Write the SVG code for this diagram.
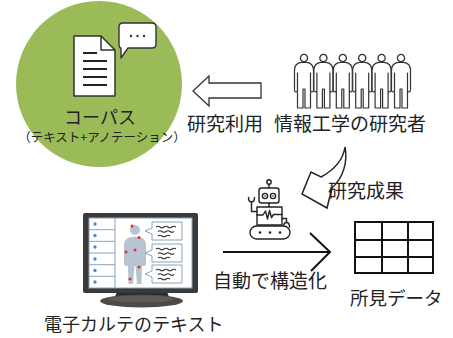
<svg xmlns="http://www.w3.org/2000/svg" xmlns:xlink="http://www.w3.org/1999/xlink" width="453" height="338" viewBox="0 0 453 338">
  <style>
    text { font-family: "Noto Sans CJK JP", "Noto Sans", sans-serif; fill: #222; }
    .lbl { font-size: 19px; }
    .ink { fill: none; stroke: #222; stroke-width: 1.4; stroke-linecap: round; stroke-linejoin: round; }
    .inkw { fill: #fff; stroke: #222; stroke-width: 1.4; stroke-linejoin: round; }
    .wave { fill: none; stroke: #333; stroke-width: 1.1; }
    .bub { fill: #fff; stroke: #8aa3ba; stroke-width: 1; }
    .red { fill: #e0312c; }
    .blue { fill: #3d8ed6; }
  </style>
  <defs>
    <!-- pictogram of a standing person, head centred at the origin -->
    <g id="person">
      <path d="M-2.5,4.3 C-7,4.8 -9.5,7 -9.5,12 L-9.5,32 Q-9.5,34 -8,34 Q-6.5,34 -6.5,32 L-6.5,15 L-6.5,50 L-1,50 L-1,31 L1,31 L1,50 L6.5,50 L6.5,15 L6.5,32 Q6.5,34 8,34 Q9.5,34 9.5,32 L9.5,12 C9.5,7 7,4.8 2.5,4.3 Z" fill="#fff" stroke="#333" stroke-width="1.2" stroke-linejoin="round"/>
      <circle cx="0" cy="0" r="3.6" fill="#fff" stroke="#333" stroke-width="1.3"/>
    </g>
    <!-- small speech bubble with wavy text lines, tail to the left -->
    <g id="note">
      <path class="bub" d="M0,0 H30 V18 H0 V12 L-7,9 L0,6 Z"/>
      <path class="wave" d="M4,5 q2,-1.5 4,0 t4,0 t4,0 t4,0 t4,0"/>
      <path class="wave" d="M6,9.5 q2,-1.5 4,0 t4,0 t4,0 t4,0"/>
      <path class="wave" d="M6,14 q2,-1.5 4,0 t4,0 t4,0"/>
    </g>
  </defs>

  <!-- corpus -->
  <g id="corpus">
    <circle cx="99" cy="84" r="83" fill="#9bbb59"/>
    <path d="M74,36 L101,36 L115,50 L115,96 L74,96 Z" fill="#fff" stroke="#333" stroke-width="1.5" stroke-linejoin="round"/>
    <path d="M101,36 L101,50 L115,50" fill="none" stroke="#333" stroke-width="1.5" stroke-linejoin="round"/>
    <g stroke="#222" stroke-width="2">
      <line x1="83" y1="53" x2="97" y2="53"/>
      <line x1="83" y1="61" x2="107" y2="61"/>
      <line x1="83" y1="69" x2="107" y2="69"/>
      <line x1="83" y1="77" x2="107" y2="77"/>
      <line x1="83" y1="85" x2="107" y2="85"/>
    </g>
    <path d="M123,23 H152 Q156,23 156,27 V44 Q156,48 152,48 H128 L121,58 L121,48 Q119,48 119,44 V27 Q119,23 123,23 Z" fill="#fff" stroke="#333" stroke-width="1.4" stroke-linejoin="round"/>
    <g fill="#333">
      <circle cx="131" cy="36" r="1.2"/>
      <circle cx="137.5" cy="36" r="1.2"/>
      <circle cx="144" cy="36" r="1.2"/>
    </g>
    <text x="100" y="124" font-size="18" text-anchor="middle">コーパス</text>
    <text x="102" y="142" font-size="12.5" text-anchor="middle">（テキスト+アノテーション）</text>
  </g>

  <!-- researchers -->
  <g id="researchers">
    <use xlink:href="#person" x="304" y="58"/>
    <use xlink:href="#person" x="323.4" y="58"/>
    <use xlink:href="#person" x="342.8" y="58"/>
    <use xlink:href="#person" x="362.2" y="58"/>
    <use xlink:href="#person" x="381.6" y="58"/>
    <use xlink:href="#person" x="401" y="58"/>
    <text class="lbl" x="274" y="131">情報工学の研究者</text>
  </g>

  <!-- structuring robot -->
  <g id="robot">
    <circle class="inkw" cx="269" cy="182" r="2.2"/>
    <line class="ink" x1="269" y1="184.2" x2="269" y2="188"/>
    <rect class="inkw" x="259" y="188" width="20" height="15" rx="2.5"/>
    <circle class="ink" cx="265" cy="196" r="2.6"/>
    <circle class="ink" cx="273" cy="196" r="2.6"/>
    <circle fill="#222" cx="265" cy="196" r="0.8"/>
    <circle fill="#222" cx="273" cy="196" r="0.8"/>
    <line class="ink" x1="269" y1="203" x2="269" y2="207"/>
    <rect class="inkw" x="257" y="207" width="25" height="18"/>
    <path class="ink" d="M257,215 H263 L265.5,211 L267.5,219 L269.5,210.5 L271.5,217.5 L273.5,214.5 H282"/>
    <path class="ink" d="M257,211.5 H251.5 V202"/>
    <path class="ink" d="M248.5,197.5 Q248.5,202 251.5,202 Q254.5,202 254.5,197.5"/>
    <path class="ink" d="M282,218.5 H286.5 V222.5"/>
    <path class="ink" d="M283.5,227 Q283.5,222.5 286.5,222.5 Q289.5,222.5 289.5,227"/>
    <rect class="inkw" x="250" y="226" width="40" height="13" rx="6.5"/>
    <g fill="#222">
      <circle cx="260" cy="232.5" r="1.3"/>
      <circle cx="270" cy="232.5" r="1.3"/>
      <circle cx="280" cy="232.5" r="1.3"/>
    </g>
  </g>

  <!-- electronic medical record monitor -->
  <g id="emr">
    <path d="M117,292 H167 L170,299 H114 Z" fill="#2c2c2c"/>
    <ellipse cx="141.5" cy="301" rx="41.5" ry="6.5" fill="#4a4a4a"/>
    <ellipse cx="141.5" cy="299" rx="33" ry="3.5" fill="#5c5c5c"/>
    <rect x="83" y="213" width="115" height="80" rx="2" fill="#3a3a3a"/>
    <rect x="89" y="218" width="103" height="70" fill="#fff" stroke="#8aa3ba" stroke-width="1"/>
    <g stroke="#8aa3ba" stroke-width="1">
      <line x1="115" y1="218" x2="115" y2="288"/>
      <line x1="89" y1="229.7" x2="115" y2="229.7"/>
      <line x1="89" y1="241.3" x2="115" y2="241.3"/>
      <line x1="89" y1="253" x2="115" y2="253"/>
      <line x1="89" y1="264.7" x2="115" y2="264.7"/>
      <line x1="89" y1="276.3" x2="115" y2="276.3"/>
    </g>
    <g class="blue">
      <circle cx="95" cy="224" r="1.7"/>
      <circle cx="95" cy="235.5" r="1.7"/>
      <circle cx="95" cy="247" r="1.7"/>
      <circle cx="95" cy="259" r="1.7"/>
      <circle cx="95" cy="270.5" r="1.7"/>
      <circle cx="95" cy="282" r="1.7"/>
    </g>
    <g fill="#b7c5d2">
      <circle cx="135" cy="230" r="5"/>
      <path d="M128,238 Q135,235 142,238 Q146,240 146,245 L146,264 Q146,266 144,266 L142,266 L141.5,284 L137,284 L135.5,266 L134.5,266 L133,284 L128.5,284 L128,266 L126,266 Q124,266 124,264 L124,245 Q124,240 128,238 Z"/>
    </g>
    <g class="red">
      <circle cx="132" cy="226" r="1.5"/>
      <circle cx="139" cy="237.5" r="1.5"/>
      <circle cx="126" cy="252" r="1.5"/>
      <circle cx="135" cy="250" r="1.5"/>
      <circle cx="139" cy="267" r="1.5"/>
      <circle cx="130" cy="279" r="1.5"/>
    </g>
    <use xlink:href="#note" x="152" y="222"/>
    <use xlink:href="#note" x="152" y="244"/>
    <use xlink:href="#note" x="152" y="265"/>
    <text x="44" y="331" font-size="18">電子カルテのテキスト</text>
  </g>

  <!-- findings table -->
  <g id="findings">
    <rect x="355" y="222" width="78" height="51" fill="#fff" stroke="#111" stroke-width="2"/>
    <g stroke="#111" stroke-width="2">
      <line x1="382" y1="222" x2="382" y2="273"/>
      <line x1="408" y1="222" x2="408" y2="273"/>
      <line x1="355" y1="240" x2="433" y2="240"/>
      <line x1="355" y1="257" x2="433" y2="257"/>
    </g>
    <text x="350" y="305" font-size="18.5">所見データ</text>
  </g>

  <!-- connectors -->
  <g id="connectors">
    <path d="M193,91 L209,76 L209,83 L261,83 L261,98 L209,98 L209,106 Z" fill="#fff" stroke="#333" stroke-width="1.3" stroke-linejoin="miter"/>
    <text class="lbl" x="187" y="131">研究利用</text>
    <path d="M345,147 C343,160 334,170 321,177 L311,172 L302,194 L327,208 L332,188 C343,178 348,162 345,147 Z" fill="#fff" stroke="#222" stroke-width="1.5" stroke-linejoin="miter"/>
    <text class="lbl" x="328" y="198">研究成果</text>
    <line x1="223" y1="252" x2="329" y2="252" stroke="#111" stroke-width="2"/>
    <path d="M310,233 L330,252 L311,271" fill="none" stroke="#111" stroke-width="2"/>
    <text class="lbl" x="213" y="288">自動で構造化</text>
  </g>
</svg>
